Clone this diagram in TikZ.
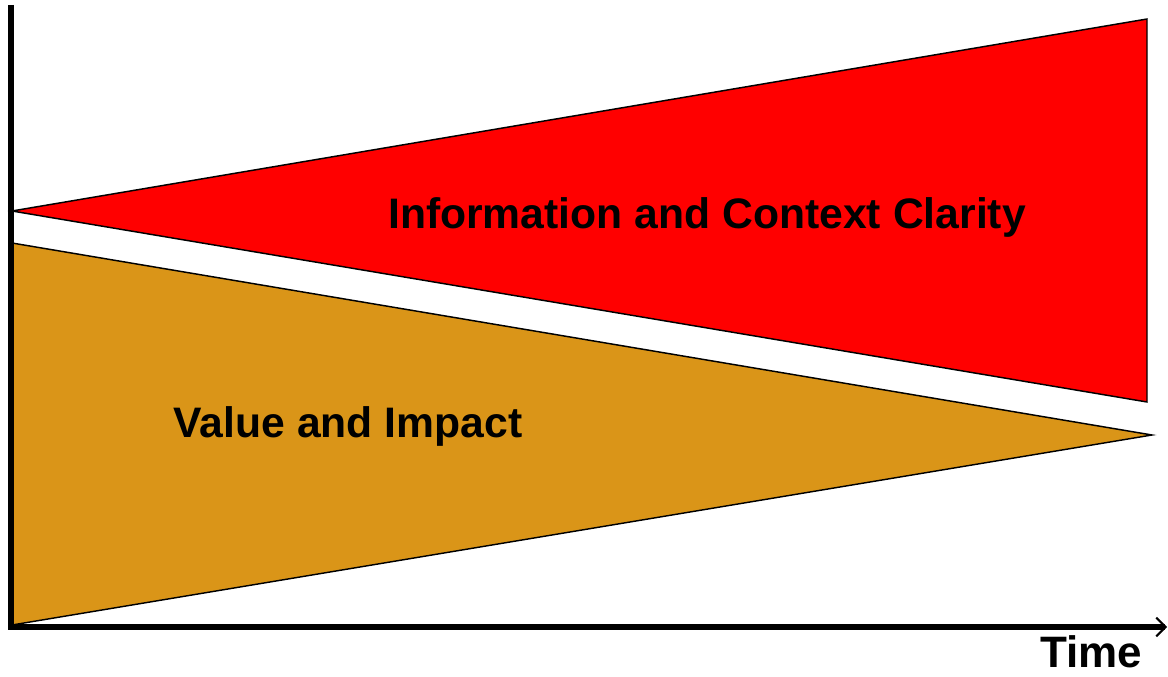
\documentclass[tikz,border=0pt]{standalone}
\usepackage{fontspec}
\setmainfont{Liberation Sans}
\usetikzlibrary{arrows.meta}

\tikzset{every picture/.style={line width=0.75pt}}
\tikzset{
  labeltext/.style={anchor=base,inner sep=0.75pt,font=\bfseries\fontsize{32}{38}\selectfont},
  band/.style={draw=black,line width=1.1pt,line join=miter}
}

\begin{document}
\begin{tikzpicture}[x=0.75pt,y=0.75pt,yscale=-1,xscale=1]
\useasboundingbox (0,0) rectangle (1168,677);

%Shape: Red wedge
\draw [band][fill={rgb, 255:red, 255; green, 0; blue, 0 }  ,fill opacity=1 ]  (12,211) -- (1147,19) -- (1147,402) -- cycle ;
%Shape: Gold wedge
\draw [band][fill={rgb, 255:red, 218; green, 149; blue, 24 }  ,fill opacity=1 ]  (12,243) -- (1152,435) -- (12,625) -- cycle ;

%Axes
\coordinate (top) at (11,5) ;
\coordinate (origin) at (11,627) ;
\coordinate (xend) at (1167,627) ;
\draw [line width=5pt]    (top) -- (11,630) ;
\draw [line width=3.8pt,-{Straight Barb[length=7pt,width=14pt,line width=1.5pt]}]    (8,627) -- (xend) ;

% Text Node
\node [labeltext] (info) at (707,229) {Information and Context Clarity};
% Text Node
\node [labeltext] (value) at (348,437) {Value and Impact};
% Text Node
\node [labeltext,font=\bfseries\fontsize{33}{40}\selectfont] (time) at (1091,667) {Time};

\end{tikzpicture}
\end{document}
